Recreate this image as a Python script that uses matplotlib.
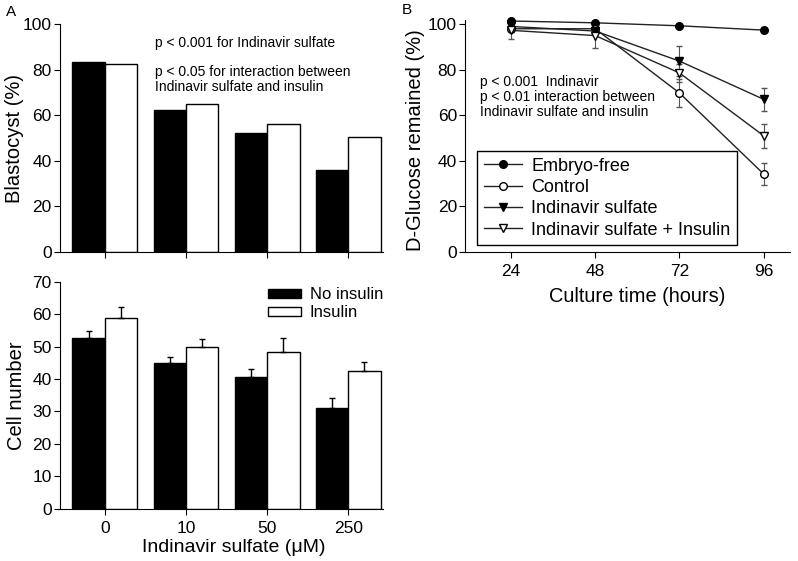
import numpy as np
import matplotlib
matplotlib.use("Agg")
import matplotlib.pyplot as plt

plt.rcParams['font.family'] = ['Liberation Sans', 'DejaVu Sans']

# --- data ---
doses = ['0', '10', '50', '250']
blast_no_ins = [83.5, 62.3, 52.3, 36.0]
blast_ins = [82.3, 64.8, 56.1, 50.3]

cells_no_ins = [52.5, 45.0, 40.7, 31.2]
cells_no_ins_err = [2.4, 1.8, 2.5, 2.9]
cells_ins = [58.9, 49.9, 48.2, 42.4]
cells_ins_err = [3.2, 2.4, 4.5, 2.8]

hours = [24, 48, 72, 96]
embryo_free = [101.4, 100.6, 99.3, 97.4]
embryo_free_err = [0.5, 0.5, 0.5, 0.5]
control = [98.0, 98.0, 69.8, 34.2]
control_err = [1.0, 1.0, 6.0, 5.0]
indinavir = [99.0, 97.0, 83.8, 67.0]
indinavir_err = [1.0, 1.5, 6.5, 5.0]
ind_insulin = [97.3, 95.0, 78.6, 51.0]
ind_insulin_err = [4.0, 5.5, 4.0, 5.3]

fig = plt.figure(figsize=(7.98, 5.61), dpi=100)

ax1 = fig.add_axes([0.075, 0.551, 0.405, 0.406])
ax2 = fig.add_axes([0.075, 0.093, 0.405, 0.405])
ax3 = fig.add_axes([0.583, 0.551, 0.407, 0.414])

x = np.arange(len(doses))
w = 0.4

def style(ax):
    for s in ['top', 'right']:
        ax.spines[s].set_visible(False)
    ax.tick_params(direction='out', length=4, pad=2, labelsize=12.5)
    ax.tick_params(axis='x', pad=5)

# A top: blastocyst
ax1.bar(x - w/2, blast_no_ins, w, color='black', edgecolor='black', lw=1)
ax1.bar(x + w/2, blast_ins, w, color='white', edgecolor='black', lw=1)
ax1.set_xlim(-0.556, 3.43)
ax1.set_ylim(0, 100)
ax1.set_yticks(range(0, 101, 20))
ax1.set_xticks(x)
ax1.set_xticklabels([])
ax1.set_ylabel('Blastocyst (%)', fontsize=14.5)
ax1.yaxis.set_label_coords(-0.11, 0.5)
style(ax1)
ax1.text(0.294, 0.917, 'p < 0.001 for Indinavir sulfate', transform=ax1.transAxes,
         fontsize=10, va='center')
ax1.text(0.294, 0.789, 'p < 0.05 for interaction between', transform=ax1.transAxes,
         fontsize=10, va='center')
ax1.text(0.294, 0.724, 'Indinavir sulfate and insulin', transform=ax1.transAxes,
         fontsize=10, va='center')

# A bottom: cell number
ax2.bar(x - w/2, cells_no_ins, w, color='black', edgecolor='black', lw=1, label='No insulin')
ax2.bar(x + w/2, cells_ins, w, color='white', edgecolor='black', lw=1, label='Insulin')
ax2.errorbar(x - w/2, cells_no_ins, yerr=[np.zeros(4), cells_no_ins_err], fmt='none',
             ecolor='black', elinewidth=1, capsize=2.5)
ax2.errorbar(x + w/2, cells_ins, yerr=[np.zeros(4), cells_ins_err], fmt='none',
             ecolor='black', elinewidth=1, capsize=2.5)
ax2.set_xlim(-0.556, 3.43)
ax2.set_ylim(0, 70)
ax2.set_yticks(range(0, 71, 10))
ax2.set_xticks(x)
ax2.set_xticklabels(doses)
ax2.set_ylabel('Cell number', fontsize=14.5)
ax2.yaxis.set_label_coords(-0.105, 0.5)
ax2.set_xlabel('Indinavir sulfate (\u03bcM)', fontsize=14)
ax2.xaxis.set_label_coords(0.539, -0.132)
style(ax2)
ax2.legend(loc='upper right', bbox_to_anchor=(1.0, 0.975), frameon=False, fontsize=12,
           handlelength=2.0, handleheight=0.45, labelspacing=0.18, handletextpad=0.5,
           borderaxespad=0, borderpad=0)

# B: glucose
series = [
    (embryo_free, embryo_free_err, 'o', 'black', 'Embryo-free'),
    (control, control_err, 'o', 'white', 'Control'),
    (indinavir, indinavir_err, 'v', 'black', 'Indinavir sulfate'),
    (ind_insulin, ind_insulin_err, 'v', 'white', 'Indinavir sulfate + Insulin'),
]
for vals, err, m, fc, lab in series:
    ax3.errorbar(hours, vals, yerr=err, fmt='-', marker=m, color='#222222', mfc=fc, mec='black',
                 ms=5.5, lw=1, elinewidth=0.8, ecolor='#555555', capsize=2.5, label=lab,
                 clip_on=False)
ax3.set_xlim(11, 103.5)
ax3.set_ylim(0, 102)
ax3.set_yticks(range(0, 101, 20))
ax3.set_xticks(hours)
ax3.set_ylabel('D-Glucose remained (%)', fontsize=14.5)
ax3.yaxis.set_label_coords(-0.125, 0.48)
ax3.set_xlabel('Culture time (hours)', fontsize=14.4)
ax3.xaxis.set_label_coords(0.528, -0.15)
style(ax3)
ax3.text(0.046, 0.731, 'p < 0.001  Indinavir', transform=ax3.transAxes, fontsize=10, va='center')
ax3.text(0.046, 0.667, 'p < 0.01 interaction between', transform=ax3.transAxes, fontsize=10,
         va='center')
ax3.text(0.046, 0.602, 'Indinavir sulfate and insulin', transform=ax3.transAxes, fontsize=10,
         va='center')
h, l = ax3.get_legend_handles_labels()
h = [hh[0] for hh in h]
leg = ax3.legend(h, l, loc='lower left', bbox_to_anchor=(0.037, 0.03), fontsize=13,
                 fancybox=False, edgecolor='black', framealpha=1, handlelength=2.15,
                 handletextpad=0.5, labelspacing=0.24, borderpad=0.35, borderaxespad=0)
leg.get_frame().set_linewidth(1)

fig.text(0.008, 0.972, 'A', fontsize=11)
fig.text(0.504, 0.975, 'B', fontsize=11)

fig.savefig('out.png', dpi=100)
